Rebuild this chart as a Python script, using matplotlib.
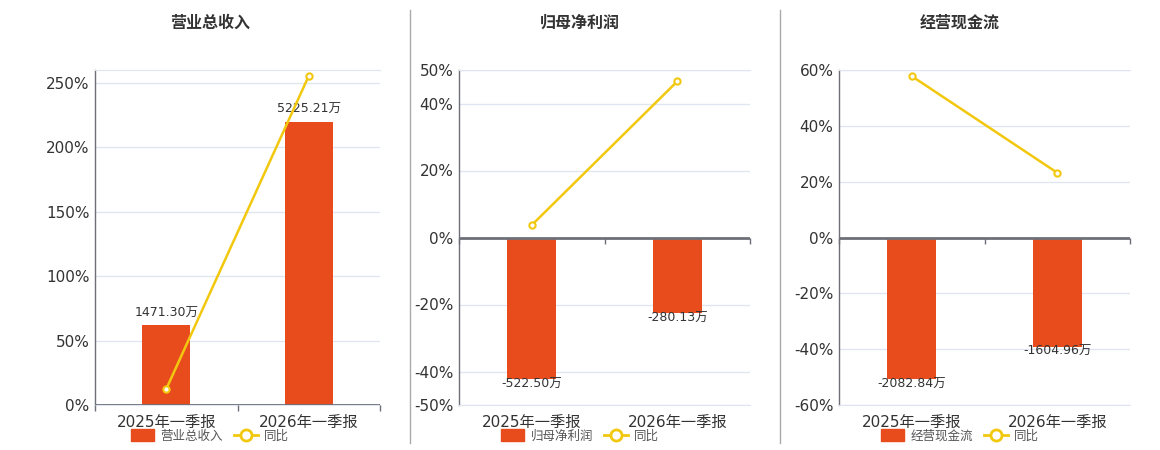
import matplotlib

matplotlib.use("Agg")
import matplotlib.pyplot as plt
from matplotlib.lines import Line2D
from matplotlib.patches import Patch

plt.rcParams["font.family"] = ["DejaVu Sans", "Noto Sans CJK SC"]
plt.rcParams["axes.unicode_minus"] = False

# ---- data -------------------------------------------------------------
periods = ["2025年一季报", "2026年一季报"]
titles = ["营业总收入", "归母净利润", "经营现金流"]
bar_values = [
    [1471.30, 5225.21],     # 万
    [-522.50, -280.13],
    [-2082.84, -1604.96],
]
yoy_pct = [
    [12.4, 255.4],
    [3.7, 46.6],
    [57.8, 23.2],
]
pct_limits = [(0, 260), (-50, 50), (-60, 60)]
pct_ticks = [
    [0, 50, 100, 150, 200, 250],
    [-50, -40, -20, 0, 20, 40, 50],
    [-60, -40, -20, 0, 20, 40, 60],
]

BAR = "#e84c1d"
LINE = "#f2c80f"
GRID = "#e0e6f1"
AXIS = "#6e7079"
TEXT = "#333333"

W, H = 1160, 450
fig = plt.figure(figsize=(W / 100, H / 100), dpi=100)

# pixel layout of the three panels: (axes left, axes right, title/legend centre)
panels = [(95, 380, 210), (459, 750, 580), (839, 1130, 960)]
ax_top, ax_bottom = 70, 405


def draw_panel(i):
    left, right, centre = panels[i]
    rect = [left / W, 1 - ax_bottom / H, (right - left) / W, (ax_bottom - ax_top) / H]
    ax = fig.add_axes(rect)
    lo, hi = pct_limits[i]
    ax.set_ylim(lo, hi)
    ax.set_xlim(-0.5, 1.5)
    ax.set_yticks(pct_ticks[i], [f"{t}%" for t in pct_ticks[i]])
    ax.set_xticks(range(len(periods)), periods)
    ax.tick_params(axis="y", length=0, pad=4, labelsize=11, labelcolor=TEXT)
    ax.tick_params(axis="x", length=0, pad=7, labelsize=11, labelcolor=TEXT)
    ax.grid(axis="y", color=GRID, lw=1)
    ax.set_axisbelow(True)
    ax.spines["right"].set_visible(False)
    ax.spines["top"].set_color(GRID)
    ax.spines["bottom"].set_color(GRID)
    ax.spines["left"].set_color(AXIS)
    ax.spines["left"].set_linewidth(1)

    # bars on a hidden value axis (万), scaled so the largest bar fills ~84% of the range
    bx = ax.twinx()
    k = max(abs(v) for v in bar_values[i]) / (0.845 * max(abs(lo), abs(hi)))
    bx.set_ylim(lo * k, hi * k)
    bx.set_xlim(-0.5, 1.5)
    bx.set_yticks([])
    for s in bx.spines.values():
        s.set_visible(False)
    bars = bx.bar(range(len(periods)), bar_values[i], width=0.34, color=BAR)
    for b, v in zip(bars, bar_values[i]):
        x = b.get_x() + b.get_width() / 2
        if v >= 0:
            bx.annotate(f"{v:.2f}万", (x, v), xytext=(0, 4), textcoords="offset points",
                        ha="center", va="bottom", fontsize=9, color=TEXT)
        else:
            bx.annotate(f"{v:.2f}万", (x, v), xytext=(0, 1), textcoords="offset points",
                        ha="center", va="top", fontsize=9, color=TEXT)

    # line + zero axis on top
    lx = ax.twinx()
    lx.set_ylim(lo, hi)
    lx.set_xlim(-0.5, 1.5)
    lx.set_yticks([])
    for s in lx.spines.values():
        s.set_visible(False)
    lx.axhline(0, color=AXIS, lw=2)
    lx.plot([-0.5, 0.5, 1.5], [0, 0, 0], ls="none", marker=3, ms=4, mew=1,
            color=AXIS, clip_on=False)
    lx.plot(range(len(periods)), yoy_pct[i], color=LINE, lw=1.8, marker="o", ms=4.5,
            mfc="white", mec=LINE, mew=1.5, clip_on=False)

    fig.text(centre / W, 1 - 23 / H, titles[i], ha="center", va="center",
             fontsize=11.5, fontweight="bold", color=TEXT)
    handles = [
        Patch(facecolor=BAR, edgecolor=BAR, label=titles[i]),
        Line2D([], [], color=LINE, lw=2, marker="o", ms=8, mfc="white", mew=2, label="同比"),
    ]
    ax.legend(handles=handles, loc="center", bbox_to_anchor=(centre / W, 1 - 436 / H),
              bbox_transform=fig.transFigure, ncol=2, frameon=False, fontsize=9,
              labelcolor="#555555", handlelength=1.9, handleheight=1.1,
              handletextpad=0.5, columnspacing=0.9, borderpad=0)


for i in range(3):
    draw_panel(i)

# panel separators
for x in (410, 780):
    fig.add_artist(Line2D([x / W, x / W], [1 - 10 / H, 1 - 443 / H], color="#aaaaaa", lw=1))

fig.savefig("out.png", dpi=100)
